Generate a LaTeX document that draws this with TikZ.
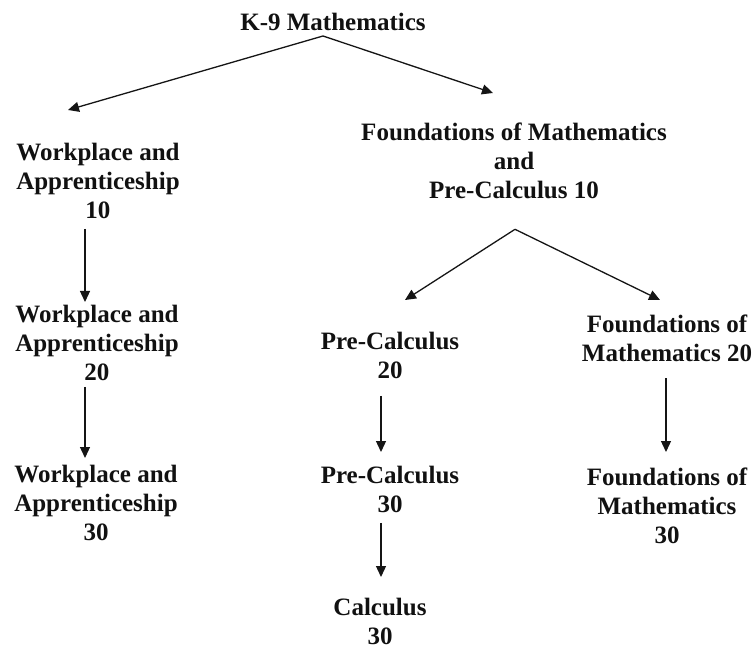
\documentclass[tikz,border=0pt]{standalone}
\usepackage{fontspec}
\setmainfont{Liberation Serif}
\definecolor{textDark}{HTML}{111111}
\definecolor{lineDark}{HTML}{151515}
\usetikzlibrary{arrows.meta}

\begin{document}
\begin{tikzpicture}[x=1pt, y=-1pt,
    course/.style={anchor=north, align=center, inner sep=0pt, text=textDark, font=\bfseries\fontsize{25}{29}\selectfont},
    flow/.style={-{Triangle[length=11pt, width=10pt]}, line width=1.3pt, lineDark}]
    \useasboundingbox (0,0) rectangle (752,652);

    \node[course] (k9) at (333, 13) {K-9 Mathematics};
    \node[course] (wa10) at (98, 143) {Workplace and\\Apprenticeship\\10};
    \node[course] (fm10) at (514, 123) {Foundations of Mathematics\\and\\Pre-Calculus 10};
    \node[course] (wa20) at (97, 305) {Workplace and\\Apprenticeship\\20};
    \node[course] (pc20) at (390, 332) {Pre-Calculus\\20};
    \node[course] (fm20) at (667, 315) {Foundations of\\Mathematics 20};
    \node[course] (wa30) at (96, 465) {Workplace and\\Apprenticeship\\30};
    \node[course] (pc30) at (390, 466) {Pre-Calculus\\30};
    \node[course] (fm30) at (667, 468) {Foundations of\\Mathematics\\30};
    \node[course] (calc) at (380, 598) {Calculus\\30};

    \draw[flow] ([xshift=-10pt, yshift=-5pt]k9.south) -- ([xshift=-30pt, yshift=33pt]wa10.north);
    \draw[flow] ([xshift=-10pt, yshift=-5pt]k9.south) -- ([xshift=-21pt, yshift=30pt]fm10.north);
    \draw[flow] ([xshift=1pt, yshift=-30pt]fm10.south) -- ([xshift=15pt, yshift=32pt]pc20.north);
    \draw[flow] ([xshift=1pt, yshift=-30pt]fm10.south) -- ([xshift=-7pt, yshift=15pt]fm20.north);

    \draw[flow] ([xshift=-13pt, yshift=-10pt]wa10.south) -- ([xshift=-12pt, yshift=3pt]wa20.north);
    \draw[flow] ([xshift=-12pt, yshift=-6pt]wa20.south) -- ([xshift=-11pt, yshift=7pt]wa30.north);
    \draw[flow] ([xshift=-9pt, yshift=-17pt]pc20.south) -- ([xshift=-9pt, yshift=14pt]pc30.north);
    \draw[flow] ([xshift=-9pt, yshift=-10pt]pc30.south) -- ([xshift=1pt, yshift=21pt]calc.north);
    \draw[flow] ([xshift=-1pt, yshift=-16pt]fm20.south) -- ([xshift=-1pt, yshift=16pt]fm30.north);
\end{tikzpicture}
\end{document}
